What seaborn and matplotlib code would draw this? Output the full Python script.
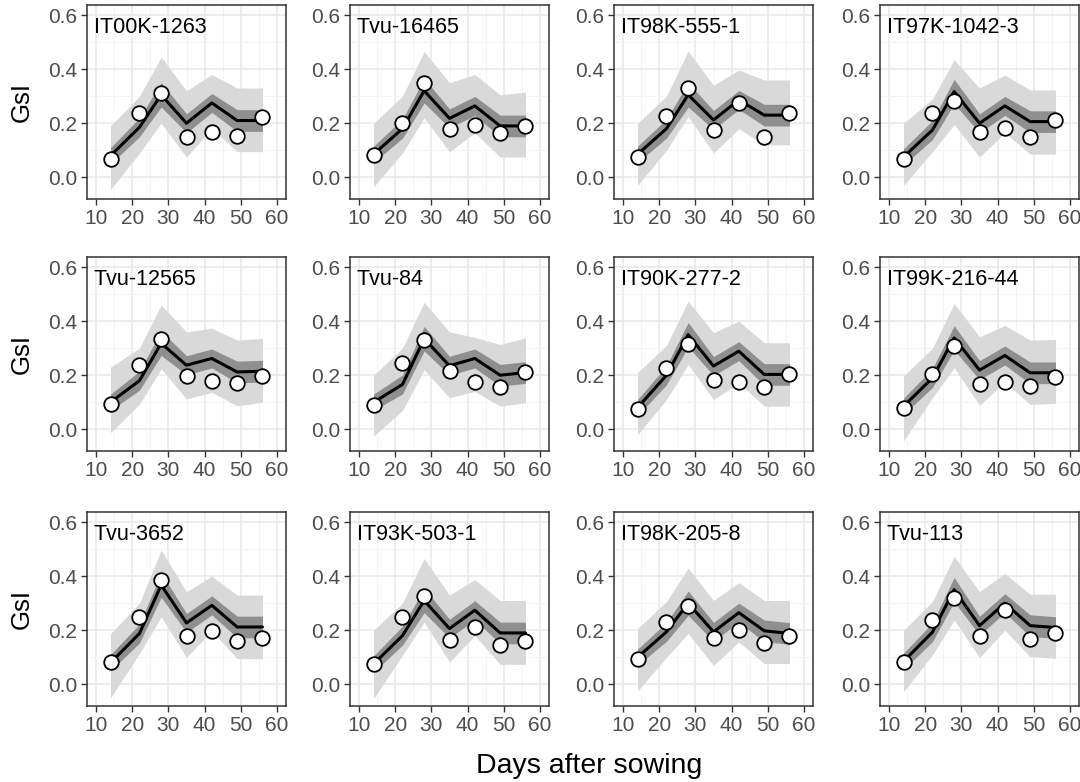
import matplotlib
matplotlib.use("Agg")
import matplotlib.pyplot as plt
import numpy as np
import pandas as pd
import seaborn as sns
from matplotlib.ticker import MultipleLocator

# Sampling days (x axis)
days = [14, 22, 28, 35, 42, 49, 56]

genotypes = [
    "IT00K-1263", "Tvu-16465", "IT98K-555-1", "IT97K-1042-3",
    "Tvu-12565", "Tvu-84", "IT90K-277-2", "IT99K-216-44",
    "Tvu-3652", "IT93K-503-1", "IT98K-205-8", "Tvu-113",
]

# Observed GsI per genotype
observed = {
    "IT00K-1263":   [0.068, 0.237, 0.313, 0.148, 0.169, 0.153, 0.224],
    "Tvu-16465":    [0.083, 0.200, 0.348, 0.177, 0.195, 0.165, 0.190],
    "IT98K-555-1":  [0.074, 0.227, 0.332, 0.175, 0.276, 0.148, 0.237],
    "IT97K-1042-3": [0.068, 0.237, 0.283, 0.169, 0.184, 0.148, 0.212],
    "Tvu-12565":    [0.093, 0.239, 0.334, 0.197, 0.177, 0.172, 0.196],
    "Tvu-84":       [0.089, 0.246, 0.329, 0.215, 0.176, 0.157, 0.212],
    "IT90K-277-2":  [0.074, 0.228, 0.314, 0.181, 0.176, 0.157, 0.203],
    "IT99K-216-44": [0.080, 0.206, 0.308, 0.169, 0.176, 0.160, 0.193],
    "Tvu-3652":     [0.083, 0.249, 0.386, 0.178, 0.196, 0.161, 0.172],
    "IT93K-503-1":  [0.074, 0.249, 0.326, 0.165, 0.212, 0.147, 0.160],
    "IT98K-205-8":  [0.095, 0.231, 0.290, 0.171, 0.202, 0.153, 0.179],
    "Tvu-113":      [0.081, 0.238, 0.318, 0.178, 0.273, 0.167, 0.189],
}

# Model prediction (mean) per genotype
predicted = {
    "IT00K-1263":   [0.080, 0.185, 0.305, 0.200, 0.275, 0.210, 0.210],
    "Tvu-16465":    [0.085, 0.180, 0.320, 0.218, 0.264, 0.190, 0.190],
    "IT98K-555-1":  [0.085, 0.180, 0.305, 0.212, 0.286, 0.230, 0.230],
    "IT97K-1042-3": [0.075, 0.175, 0.317, 0.200, 0.264, 0.206, 0.206],
    "Tvu-12565":    [0.100, 0.180, 0.318, 0.237, 0.262, 0.212, 0.215],
    "Tvu-84":       [0.100, 0.166, 0.335, 0.235, 0.262, 0.200, 0.210],
    "IT90K-277-2":  [0.080, 0.200, 0.350, 0.234, 0.289, 0.203, 0.203],
    "IT99K-216-44": [0.085, 0.190, 0.338, 0.219, 0.273, 0.209, 0.209],
    "Tvu-3652":     [0.080, 0.188, 0.367, 0.227, 0.292, 0.212, 0.212],
    "IT93K-503-1":  [0.075, 0.180, 0.310, 0.206, 0.274, 0.190, 0.190],
    "IT98K-205-8":  [0.100, 0.194, 0.300, 0.194, 0.265, 0.198, 0.188],
    "Tvu-113":      [0.085, 0.193, 0.350, 0.217, 0.300, 0.217, 0.210],
}

# Outer prediction interval (lower / upper)
outer_lo = {
    "IT00K-1263":   [-0.045, 0.090, 0.200, 0.075, 0.180, 0.095, 0.095],
    "Tvu-16465":    [-0.035, 0.090, 0.220, 0.095, 0.165, 0.075, 0.075],
    "IT98K-555-1":  [-0.030, 0.100, 0.225, 0.090, 0.180, 0.120, 0.120],
    "IT97K-1042-3": [-0.030, 0.095, 0.195, 0.075, 0.165, 0.086, 0.086],
    "Tvu-12565":    [-0.012, 0.093, 0.224, 0.112, 0.137, 0.087, 0.100],
    "Tvu-84":       [-0.025, 0.070, 0.220, 0.117, 0.140, 0.086, 0.098],
    "IT90K-277-2":  [-0.020, 0.110, 0.240, 0.110, 0.172, 0.086, 0.086],
    "IT99K-216-44": [-0.043, 0.117, 0.228, 0.089, 0.175, 0.092, 0.096],
    "Tvu-3652":     [-0.050, 0.114, 0.250, 0.100, 0.197, 0.095, 0.095],
    "IT93K-503-1":  [-0.053, 0.107, 0.230, 0.083, 0.180, 0.074, 0.074],
    "IT98K-205-8":  [-0.025, 0.100, 0.188, 0.070, 0.157, 0.077, 0.077],
    "Tvu-113":      [-0.027, 0.109, 0.238, 0.099, 0.200, 0.102, 0.096],
}
outer_hi = {
    "IT00K-1263":   [0.190, 0.300, 0.445, 0.320, 0.380, 0.330, 0.330],
    "Tvu-16465":    [0.200, 0.300, 0.465, 0.350, 0.380, 0.305, 0.315],
    "IT98K-555-1":  [0.200, 0.300, 0.467, 0.340, 0.397, 0.360, 0.360],
    "IT97K-1042-3": [0.200, 0.290, 0.434, 0.330, 0.378, 0.323, 0.323],
    "Tvu-12565":    [0.230, 0.300, 0.460, 0.360, 0.374, 0.330, 0.336],
    "Tvu-84":       [0.200, 0.300, 0.470, 0.360, 0.340, 0.314, 0.338],
    "IT90K-277-2":  [0.210, 0.310, 0.474, 0.357, 0.400, 0.320, 0.320],
    "IT99K-216-44": [0.197, 0.300, 0.465, 0.342, 0.384, 0.330, 0.332],
    "Tvu-3652":     [0.188, 0.300, 0.497, 0.342, 0.400, 0.330, 0.330],
    "IT93K-503-1":  [0.200, 0.300, 0.465, 0.330, 0.387, 0.310, 0.310],
    "IT98K-205-8":  [0.206, 0.306, 0.430, 0.310, 0.376, 0.310, 0.310],
    "Tvu-113":      [0.200, 0.306, 0.473, 0.343, 0.410, 0.333, 0.333],
}

# Half-width of the inner (mean) interval at each day
inner_half = [0.030, 0.035, 0.045, 0.035, 0.035, 0.040, 0.040]

FONT = "Liberation Sans"
sns.set_theme(style="white")
plt.rcParams["font.family"] = [FONT, "DejaVu Sans"]

W, H = 1080, 782
fig = plt.figure(figsize=(W / 100, H / 100), dpi=100)

col_left = [87, 350, 614, 880]
row_top = [5, 257, 512]
pw, ph = 199, 194

LIGHT = "#d9d9d9"
DARK = "#8f8f8f"
GRID_MAJ = "#e8e8e8"
GRID_MIN = "#f3f3f3"
FRAME = "#333333"
TICKTXT = "#4d4d4d"

for i, g in enumerate(genotypes):
    r, c = divmod(i, 4)
    ax = fig.add_axes([col_left[c] / W, 1 - (row_top[r] + ph) / H, pw / W, ph / H])

    df = pd.DataFrame({
        "day": days,
        "obs": observed[g],
        "pred": predicted[g],
        "lo": outer_lo[g],
        "hi": outer_hi[g],
    })
    df["in_lo"] = df["pred"] - np.array(inner_half)
    df["in_hi"] = df["pred"] + np.array(inner_half)

    ax.fill_between(df["day"], df["lo"], df["hi"], color=LIGHT, lw=0, zorder=2)
    ax.fill_between(df["day"], df["in_lo"], df["in_hi"], color=DARK, lw=0, zorder=3)
    sns.lineplot(data=df, x="day", y="pred", ax=ax, color="black", lw=2.2,
                 zorder=4, legend=False)
    sns.scatterplot(data=df, x="day", y="obs", ax=ax, s=110, color="white",
                    edgecolor="black", linewidth=1.3, zorder=5, legend=False)

    ax.set_xlim(7.5, 62.5)
    ax.set_ylim(-0.08, 0.637)
    ax.xaxis.set_minor_locator(MultipleLocator(5))
    ax.yaxis.set_minor_locator(MultipleLocator(0.1))
    ax.set_yticks([0.0, 0.2, 0.4, 0.6])
    ax.set_yticklabels(["0.0", "0.2", "0.4", "0.6"])
    ax.set_xticks([10, 20, 30, 40, 50, 60])

    ax.grid(which="major", color=GRID_MAJ, lw=1.1, zorder=0)
    ax.grid(which="minor", color=GRID_MIN, lw=0.6, zorder=0)
    ax.set_axisbelow(True)
    ax.set_facecolor("white")
    for sp in ax.spines.values():
        sp.set_color(FRAME)
        sp.set_linewidth(1.1)
        sp.set_visible(True)

    ax.tick_params(which="major", length=4, width=1, color=FRAME,
                   labelsize=15, labelcolor=TICKTXT, pad=3,
                   bottom=True, left=True)
    ax.tick_params(which="minor", length=0)
    for lab in ax.get_xticklabels() + ax.get_yticklabels():
        lab.set_fontfamily(FONT)

    ax.set_xlabel("")
    ax.set_ylabel("")
    if c == 0:
        ax.set_ylabel("GsI", fontsize=18.5, color="black", labelpad=10, family=FONT)

    ax.text(0.035, 0.885, g, transform=ax.transAxes, ha="left", va="center",
            fontsize=15.5, color="black", family=FONT, zorder=6)

fig.text(589 / W, 1 - 766 / H, "Days after sowing", ha="center", va="center",
         fontsize=20.5, color="black", family=FONT)

fig.savefig("out.png", dpi=100, facecolor="white")
